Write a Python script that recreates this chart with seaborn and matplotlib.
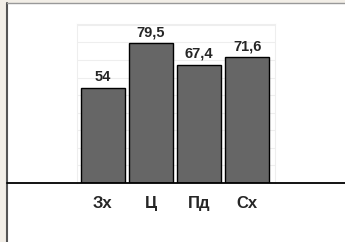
import matplotlib
matplotlib.use("Agg")
import matplotlib.pyplot as plt
import seaborn as sns
import pandas as pd
from matplotlib.patches import Rectangle
from matplotlib.lines import Line2D

categories = ["Зх", "Ц", "Пд", "Сх"]
values = [54, 79.5, 67.4, 71.6]
value_labels = ["54", "79,5", "67,4", "71,6"]

df = pd.DataFrame({"cat": categories, "val": values})

sns.set_style("white")
plt.rcParams["font.family"] = ["Liberation Sans", "DejaVu Sans"]

W, H = 345, 242
fig = plt.figure(figsize=(W / 100, H / 100), dpi=100, facecolor="#f2eee7")

# white panel with dark left/top frame
fig.add_artist(Rectangle((7 / W, 0), 1 - 7 / W, 1 - 3 / H, transform=fig.transFigure,
                         facecolor="white", edgecolor="none", zorder=-5))
fig.add_artist(Line2D([6.5 / W, 6.5 / W], [0, 1 - 2.5 / H], transform=fig.transFigure,
                      color="#555555", lw=1.5, zorder=-4))
fig.add_artist(Line2D([6.5 / W, 1], [1 - 3 / H, 1 - 3 / H], transform=fig.transFigure,
                      color="#999999", lw=1.0, zorder=-4))

ax = fig.add_axes([77 / W, 1 - 183 / H, 198 / W, (183 - 24) / H])
ax.set_zorder(2)
sns.barplot(data=df, x="cat", y="val", color="#666666", width=0.92,
            edgecolor="black", linewidth=1, saturation=1, ax=ax)
ax.set_xlim(-0.54, 3.58)
ax.set_ylim(0, 90.5)
ax.set_yticks(range(0, 91, 10))
ax.yaxis.grid(True, color="#eeeeee", lw=0.8)
ax.set_axisbelow(True)
ax.tick_params(left=False, labelleft=False, bottom=False, pad=6)
for lbl in ax.get_xticklabels():
    lbl.set_fontweight("bold")
    lbl.set_fontsize(12)
ax.set_xlabel("")
ax.set_ylabel("")
for s in ["top", "right", "left"]:
    ax.spines[s].set_color("#eeeeee")
ax.spines["bottom"].set_visible(False)

for i, (v, t) in enumerate(zip(values, value_labels)):
    ax.annotate(t, (i, v), xytext=(0, 3), textcoords="offset points",
                ha="center", va="bottom", fontweight="bold", fontsize=10.5)

# baseline across full width
fig.add_artist(Line2D([7 / W, 1], [1 - 183 / H, 1 - 183 / H], transform=fig.transFigure,
                      color="black", lw=1.3, zorder=5))

fig.savefig("out.png", dpi=100, facecolor=fig.get_facecolor())
